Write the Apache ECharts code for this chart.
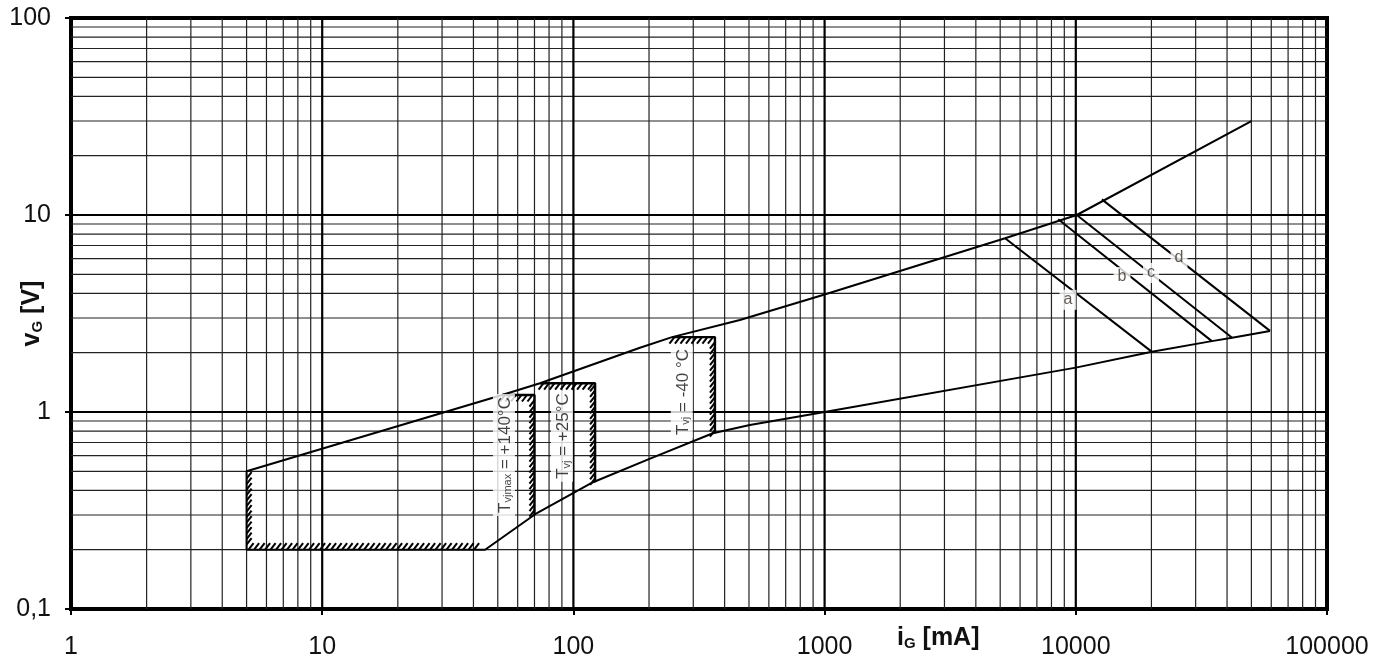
<!DOCTYPE html>
<html>
<head>
<meta charset="utf-8">
<script src="https://cdn.jsdelivr.net/npm/echarts@6/dist/echarts.min.js"></script>
<style>
html,body{margin:0;padding:0;background:#fff;}
#chart{width:1392px;height:669px;}
</style>
</head>
<body>
<div id="chart"></div>
<script>
// ---- tick labels ----
const xTickLabels = ['1', '10', '100', '1000', '10000', '100000'];
const yTickLabels = ['0,1', '1', '10', '100'];

// ---- grid line values ----
const xMajorGrid = [10, 100, 1000, 10000];
const xMinorGrid = [2,3,4,5,6,7,8,9, 20,30,40,50,60,70,80,90, 200,300,400,500,600,700,800,900,
  2000,3000,4000,5000,6000,7000,8000,9000, 20000,30000,40000,50000,60000,70000,80000,90000];
const yMajorGrid = [1, 10];
const yMinorGrid = [0.2,0.3,0.4,0.5,0.6,0.7,0.8,0.9, 2,3,4,5,6,7,8,9, 20,30,40,50,60,70,80,90];

// ---- boundary curves [iG mA, vG V] ----
const upperBoundary = [[5,0.2],[5,0.5],[52,1.22],[73.6,1.40],[184,2.12],[247,2.40],[460,2.93],[1000,3.95],[5230,7.62],[10090,10.0],[50000,30]];
const lowerBoundary = [[5,0.2],[44.5,0.2],[71.6,0.307],[119.7,0.44],[202,0.58],[359,0.78],[504,0.86],[1000,1.0],[10000,1.68],[20100,2.02],[34800,2.29],[41900,2.38],[59300,2.58]];

// ---- temperature boxes ----
const box140 = [[52,1.22],[70,1.22],[70,0.30]];
const box25 = [[73.6,1.40],[122,1.40],[122,0.44]];
const boxM40 = [[247,2.40],[366,2.40],[366,0.78]];

// hatched edges [x1,y1,x2,y2] (hatch on left-hand side of walking direction)
const hatchEdges = [
  [5,0.47,5,0.2],
  [5,0.2,41,0.2],
  [70,0.31,70,1.22],
  [70,1.22,52,1.22],
  [122,0.45,122,1.40],
  [122,1.40,73.6,1.40],
  [366,0.79,366,2.40],
  [366,2.40,247,2.40]
];

// ---- pulse lines a..d ----
const lineA = [[5230,7.62],[20100,2.02]];
const lineB = [[8510,9.51],[34800,2.29]];
const lineC = [[10090,10.0],[41900,2.38]];
const lineD = [[12700,12.0],[59300,2.58]];
const letterLabels = [['a',9310,3.71],['b',15280,4.84],['c',19920,5.08],['d',25760,6.05]];

// ---- temperature labels ----
const tempLabels = [
  [52.9, 0.605, '{t|T}{s|vjmax}{t| = +140°C}'],
  [90.1, 0.755, '{t|T}{s|vj}{t| = +25°C}'],
  [270, 1.263, '{t|T}{s|vj}{t| = -40 °C}']
];

const FONT = 'Liberation Sans, Arial, sans-serif';
const chart = echarts.init(document.getElementById('chart'));

function gridSeries(values, dir, color, width) {
  return {
    type: 'custom', silent: true, z: 1,
    data: values.map(v => dir === 'x' ? [v, 1] : [1, v]),
    renderItem: function (params, api) {
      const cs = params.coordSys;
      const p = api.coord([api.value(0), api.value(1)]);
      const shape = dir === 'x'
        ? { x1: p[0], y1: cs.y, x2: p[0], y2: cs.y + cs.height }
        : { x1: cs.x, y1: p[1], x2: cs.x + cs.width, y2: p[1] };
      return { type: 'line', shape: shape, style: { stroke: color, lineWidth: width } };
    }
  };
}

function lineSeries(data, w) {
  return {
    type: 'line', data: data, symbol: 'none', silent: true, z: 3,
    lineStyle: { color: '#000', width: w || 2 }, animation: false
  };
}

const hatchSeries = {
  type: 'custom', silent: true, z: 4,
  dimensions: ['x1','y1','x2','y2'],
  encode: { x: [0, 2], y: [1, 3] },
  data: hatchEdges,
  renderItem: function (params, api) {
    const p1 = api.coord([api.value(0), api.value(1)]);
    const p2 = api.coord([api.value(2), api.value(3)]);
    const dx = p2[0] - p1[0], dy = p2[1] - p1[1];
    const len = Math.sqrt(dx * dx + dy * dy);
    const ux = dx / len, uy = dy / len;
    const nx = uy, ny = -ux;
    const s = (nx - ny) >= 0 ? 1 : -1;
    const vx = 5 * s, vy = -6.5 * s;
    const step = 5.5;
    const children = [];
    for (let d = 2; d <= len - 1; d += step) {
      const x = p1[0] + ux * d, y = p1[1] + uy * d;
      children.push({ type: 'line', shape: { x1: x, y1: y, x2: x + vx, y2: y + vy },
        style: { stroke: '#000', lineWidth: 2 } });
    }
    return { type: 'group', children: children };
  }
};

const letterSeries = {
  type: 'scatter', z: 6, silent: true, symbolSize: 0,
  data: letterLabels.map(l => ({ value: [l[1], l[2]], name: l[0] })),
  label: {
    show: true, position: 'inside', formatter: p => p.name,
    color: '#3a3128', fontFamily: FONT, fontSize: 16,
    backgroundColor: '#fff', padding: [2, 4]
  }
};

const tempSeries = {
  type: 'scatter', z: 6, silent: true, symbolSize: 0,
  data: tempLabels.map(l => ({ value: [l[0], l[1]], name: l[2] })),
  label: {
    show: true, position: 'inside', rotate: 90, formatter: p => p.name,
    backgroundColor: '#fff', padding: [1, 3],
    rich: {
      t: { fontSize: 17, fontFamily: FONT, color: '#111', lineHeight: 20, verticalAlign: 'bottom' },
      s: { fontSize: 11, fontFamily: FONT, color: '#111', lineHeight: 10, verticalAlign: 'bottom' }
    }
  }
};

const nameRich = {
  b: { fontSize: 25, fontWeight: 'bold', fontFamily: FONT, color: '#111', fill: '#111', lineHeight: 27, verticalAlign: 'bottom' },
  s: { fontSize: 15, fontWeight: 'bold', fontFamily: FONT, color: '#111', fill: '#111', lineHeight: 13, verticalAlign: 'bottom' }
};

const option = {
  animation: false,
  backgroundColor: '#fff',
  grid: { left: 71, right: 65, top: 18, bottom: 60, containLabel: false, outerBoundsMode: 'none',
    show: true, borderColor: '#000', borderWidth: 4, backgroundColor: 'transparent' },
  xAxis: {
    type: 'log', logBase: 10, min: 1, max: 100000,
    axisLine: { show: true, lineStyle: { color: '#000', width: 4 } },
    axisTick: { show: true, length: 6, lineStyle: { color: '#000', width: 2 } },
    splitLine: { show: false },
    axisLabel: {
      margin: 26, fontSize: 25, fontFamily: FONT, color: '#111', hideOverlap: false,
      formatter: v => xTickLabels[Math.round(Math.log10(v))]
    }
  },
  yAxis: {
    type: 'log', logBase: 10, min: 0.1, max: 100,
    axisLine: { show: true, lineStyle: { color: '#000', width: 4 } },
    axisTick: { show: true, length: 6, lineStyle: { color: '#000', width: 2 } },
    splitLine: { show: false },
    axisLabel: {
      margin: 20, fontSize: 25, fontFamily: FONT, color: '#111',
      formatter: v => yTickLabels[Math.round(Math.log10(v)) + 1]
    },
    name: '{b|v}{s|G}{b| [V]}',
    nameLocation: 'middle', nameRotate: 90, nameGap: 26, nameMoveOverlap: false,
    nameTextStyle: { rich: nameRich }
  },
  graphic: [{
    type: 'text', left: 897, top: 626, z: 10,
    style: { text: '{b|i}{s|G}{b| [mA]}', rich: nameRich }
  }],
  series: [
    gridSeries(xMinorGrid, 'x', '#222', 1.2),
    gridSeries(yMinorGrid, 'y', '#222', 1.2),
    gridSeries(xMajorGrid, 'x', '#000', 2.2),
    gridSeries(yMajorGrid, 'y', '#000', 2.2),
    lineSeries(upperBoundary),
    lineSeries(lowerBoundary),
    lineSeries(box140, 2.4),
    lineSeries(box25, 2.4),
    lineSeries(boxM40, 2.4),
    lineSeries(lineA),
    lineSeries(lineB),
    lineSeries(lineC),
    lineSeries(lineD),
    hatchSeries,
    letterSeries,
    tempSeries
  ]
};
chart.setOption(option);
</script>
</body>
</html>
